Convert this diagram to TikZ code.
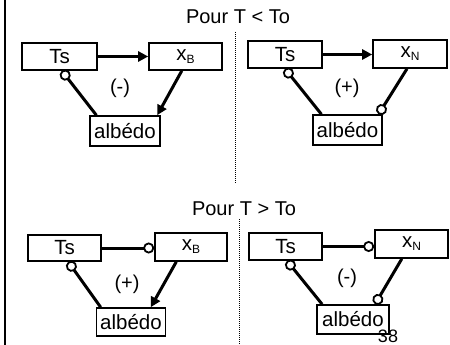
\documentclass[tikz,border=0pt]{standalone}
\usepackage{fontspec}
\setmainfont{Liberation Sans}
\usetikzlibrary{arrows.meta,calc}
\newcommand{\subB}[1]{x\raisebox{-3pt}{\fontsize{12}{12}\selectfont #1}}
\begin{document}
\begin{tikzpicture}[x=1pt,y=-1pt,
  box/.style={draw,line width=1.6pt,inner sep=0pt,font=\fontsize{20.5}{22}\selectfont},
  conn/.style={line width=3pt},
  act/.style={conn,-{Triangle[length=10pt,width=10pt]}},
  inhE/.style={conn,-{Circle[open,length=11pt,width=11pt,line width=1.8pt,fill=white]}},
  inhS/.style={conn,{Circle[open,length=11pt,width=11pt,line width=1.8pt,fill=white]}-},
  lbl/.style={font=\fontsize{20}{22}\selectfont,inner sep=0pt},
  sep/.style={line width=1pt,dash pattern=on 1pt off 1pt}
]
\useasboundingbox (0,0) rectangle (450,345);
\fill[white] (0,0) rectangle (450,345);
\draw[line width=2.4pt] (5,0) -- (5,345);
\draw[sep] (235,32) -- (235,183);
\draw[sep] (239,219) -- (239,345);

% titles
\node[lbl] (t1) at (238,17) {Pour T < To};
\node[lbl] (t2) at (244,209) {Pour T > To};

% top-left
\node[box,minimum width=75pt,minimum height=27pt] (Ts1) at (59.5,56.5) {Ts};
\node[box,minimum width=73pt,minimum height=27pt] (xB1) at (185.5,56.5) {\subB{B}};
\node[box,minimum width=70pt,minimum height=30pt] (al1) at (125,131) {albédo};
\node[lbl] (s1) at (120,88) {(-)};
\draw[act] (Ts1.east) -- (xB1.west);
\draw[inhS] ($(Ts1.south west)!0.53!(Ts1.south east)$) -- ($(al1.north west)!0.1!(al1.north east)$);
\draw[act] ($(xB1.south west)!0.45!(xB1.south east)$) -- ($(al1.north west)!0.95!(al1.north east)$);

% top-right
\node[box,minimum width=74pt,minimum height=27pt] (Ts2) at (285,54.5) {Ts};
\node[box,minimum width=74pt,minimum height=28pt] (xN2) at (410,54) {\subB{N}};
\node[box,minimum width=69pt,minimum height=30pt] (al2) at (347.5,130) {albédo};
\node[lbl] (s2) at (347,88) {(+)};
\draw[act] (Ts2.east) -- (Ts2.east -| xN2.west);
\draw[inhS] ($(Ts2.south west)!0.5!(Ts2.south east)$) -- ($(al2.north west)!0.13!(al2.north east)$);
\draw[inhE] ($(xN2.south west)!0.46!(xN2.south east)$) -- ($(al2.north west)!0.94!(al2.north east)$);

% bottom-left
\node[box,minimum width=73pt,minimum height=26pt] (Ts3) at (64.5,248) {Ts};
\node[box,minimum width=72pt,minimum height=28pt] (xB3) at (191,247) {\subB{B}};
\node[box,minimum width=69pt,minimum height=28pt] (al3) at (131,322) {albédo};
\node[lbl] (s3) at (127,284) {(+)};
\draw[inhE] (Ts3.east) -- (Ts3.east -| xB3.west);
\draw[inhS] ($(Ts3.south west)!0.55!(Ts3.south east)$) -- ($(al3.north west)!0.07!(al3.north east)$);
\draw[act] ($(xB3.south west)!0.3!(xB3.south east)$) -- ($(al3.north west)!0.78!(al3.north east)$);

% bottom-right
\node[box,minimum width=73pt,minimum height=27pt] (Ts4) at (285.5,246.5) {Ts};
\node[box,minimum width=73pt,minimum height=28pt] (xN4) at (411.5,244) {\subB{N}};
\node[box,minimum width=72pt,minimum height=29pt] (al4) at (353,319.5) {albédo};
\node[lbl] (s4) at (347,278) {(-)};
\draw[inhE] (Ts4.east) -- (Ts4.east -| xN4.west);
\draw[inhS] ($(Ts4.south west)!0.52!(Ts4.south east)$) -- ($(al4.north west)!0.08!(al4.north east)$);
\draw[inhE] ($(xN4.south west)!0.37!(xN4.south east)$) -- ($(al4.north west)!0.8!(al4.north east)$);

\node[lbl,font=\fontsize{18}{19}\selectfont] (pg) at (388,336) {38};
\end{tikzpicture}
\end{document}
